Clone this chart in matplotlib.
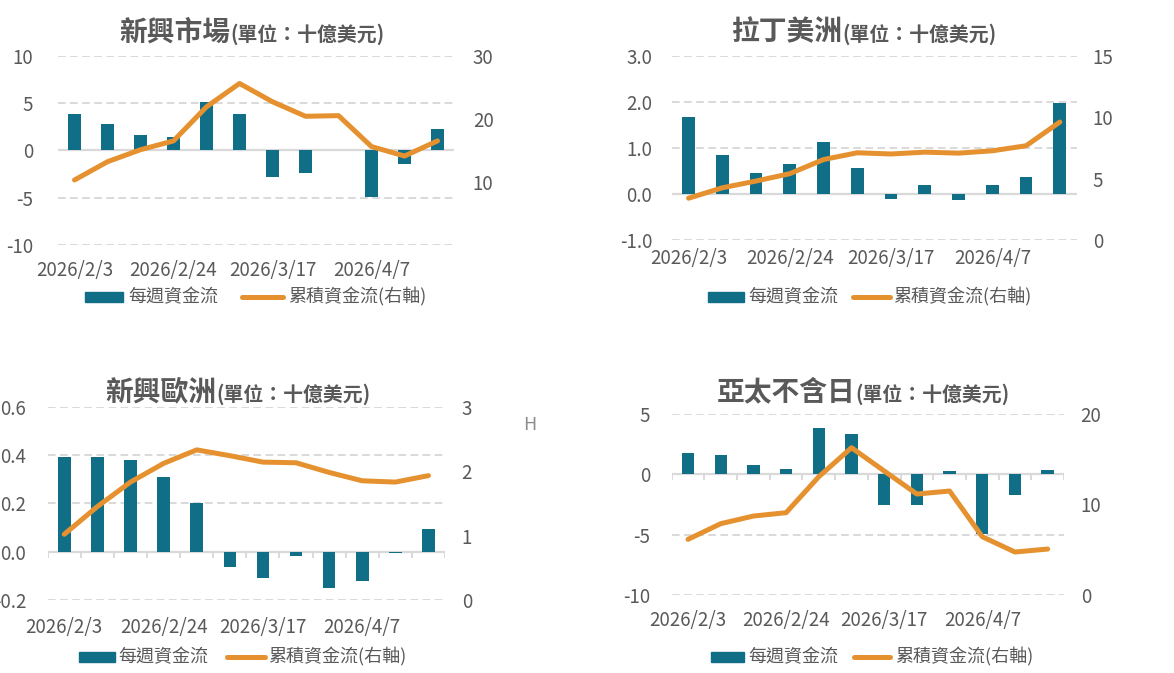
import matplotlib
matplotlib.use("Agg")
import matplotlib.pyplot as plt
from matplotlib.patches import Rectangle
from matplotlib.lines import Line2D

plt.rcParams['font.family'] = ['Noto Sans CJK TC', 'DejaVu Sans']
plt.rcParams['lines.scale_dashes'] = False

# ---------------- data ----------------
dates = ['2026/2/3', '2026/2/10', '2026/2/17', '2026/2/24', '2026/3/3', '2026/3/10',
         '2026/3/17', '2026/3/24', '2026/3/31', '2026/4/7', '2026/4/14', '2026/4/21']
shown_ticks = [0, 3, 6, 9]

em_weekly = [3.8, 2.75, 1.6, 1.4, 5.1, 3.8, -2.8, -2.4, 0.02, -4.95, -1.45, 2.3]
em_cum = [10.3, 13.2, 15.1, 16.5, 21.9, 25.6, 22.7, 20.4, 20.5, 15.6, 14.1, 16.5]

latam_weekly = [1.67, 0.84, 0.45, 0.64, 1.12, 0.56, -0.11, 0.19, -0.13, 0.19, 0.36, 1.97]
latam_cum = [3.4, 4.25, 4.8, 5.4, 6.55, 7.1, 7.0, 7.15, 7.07, 7.26, 7.67, 9.6]

eeu_weekly = [0.393, 0.393, 0.381, 0.31, 0.203, -0.065, -0.11, -0.019, -0.152, -0.123, -0.007, 0.095]
eeu_cum = [1.02, 1.45, 1.83, 2.12, 2.33, 2.24, 2.14, 2.13, 1.98, 1.85, 1.83, 1.93]

apxj_weekly = [1.76, 1.6, 0.77, 0.44, 3.83, 3.33, -2.59, -2.53, 0.28, -4.99, -1.76, 0.36]
apxj_cum = [6.14, 7.87, 8.71, 9.08, 13.05, 16.25, 13.68, 11.14, 11.47, 6.43, 4.74, 5.07]

titles = ['新興市場', '拉丁美洲', '新興歐洲', '亞太不含日']
subtitle = '(單位：十億美元)'
legend_bar = '每週資金流'
legend_line = '累積資金流(右軸)'

left_ticks = [[10, 5, 0, -5, -10], [3.0, 2.0, 1.0, 0.0, -1.0], [0.6, 0.4, 0.2, 0.0, -0.2], [5, 0, -5, -10]]
left_fmt = ['{:.0f}', '{:.1f}', '{:.1f}', '{:.0f}']
right_lim = [(0, 30), (0, 15), (0, 3), (0, 20)]
right_ticks = [[10, 20, 30], [0, 5, 10, 15], [0, 1, 2, 3], [0, 10, 20]]

# ---------------- style ----------------
W, H = 1174, 673
BAR = '#106E86'
LINE = '#E6912F'
TXT = '#595959'
GRID = '#D9D9D9'
TICK_FS = 13.5
LEG_FS = 13

fig = plt.figure(figsize=(W / 100, H / 100), dpi=100)
fig.patch.set_facecolor('white')

def frac_rect(x0, x1, ytop, ybot):
    return [x0 / W, 1 - ybot / H, (x1 - x0) / W, (ybot - ytop) / H]

panels = [
    dict(box=(58, 454, 55.7, 245), xpad=10.5, lpad=18, rpad=13.5, title_x=230, title_y=40.5,
         leg_y=297, leg=(85, 123, 128, 242, 283, 288), ticks0=False),
    dict(box=(671.7, 1076.7, 55.7, 240), xpad=5.5, lpad=14, rpad=11.5, title_x=842, title_y=40.5,
         leg_y=297, leg=(708, 744, 748, 853, 890, 893), ticks0=False),
    dict(box=(47.7, 445, 406.7, 600), xpad=12.5, lpad=15.5, rpad=12, title_x=216, title_y=400.5,
         leg_y=657, leg=(79, 115, 118, 227, 265, 268), ticks0=True),
    dict(box=(671.7, 1064, 413.7, 595), xpad=10.5, lpad=15.5, rpad=12, title_x=855, title_y=400.5,
         leg_y=657, leg=(711, 744, 748, 854, 890, 895), ticks0=True),
]
weekly = [em_weekly, latam_weekly, eeu_weekly, apxj_weekly]
cum = [em_cum, latam_cum, eeu_cum, apxj_cum]

n = len(dates)
xs = list(range(n))

for i, p in enumerate(panels):
    ax = fig.add_axes(frac_rect(*p['box']))
    ax.set_xlim(-0.5, n - 0.5)
    lt = left_ticks[i]
    ax.set_ylim(min(lt), max(lt))
    for s in ax.spines.values():
        s.set_visible(False)
    for v in lt:
        if v == 0:
            ax.axhline(0, color=GRID, lw=1.6, zorder=1)
        else:
            ax.axhline(v, color=GRID, lw=1.4, ls=(0, (5.5, 3.2)), zorder=0)
    if p['ticks0']:
        bounds = [k - 0.5 for k in range(n + 1)]
        ax.vlines(bounds, 0, -(max(lt) - min(lt)) * 6.0 / (p['box'][3] - p['box'][2]),
                  color=GRID, lw=1.4, zorder=1)
    ax.bar(xs, weekly[i], width=0.38, color=BAR, zorder=2)
    ax.set_yticks(lt)
    ax.set_yticklabels([left_fmt[i].format(v) for v in lt])
    ax.set_xticks(shown_ticks)
    ax.set_xticklabels([dates[k] for k in shown_ticks])
    ax.tick_params(axis='x', length=0, pad=p['xpad'], labelsize=TICK_FS, labelcolor=TXT)
    ax.tick_params(axis='y', length=0, pad=p['lpad'], labelsize=TICK_FS, labelcolor=TXT)
    for t in ax.get_xticklabels() + ax.get_yticklabels():
        t.set_fontweight('light')

    ax2 = ax.twinx()
    ax2.set_ylim(*right_lim[i])
    for s in ax2.spines.values():
        s.set_visible(False)
    ax2.plot(xs, cum[i], color=LINE, lw=3.6, solid_capstyle='round', solid_joinstyle='round', zorder=3)
    ax2.set_yticks(right_ticks[i])
    ax2.set_yticklabels([str(v) for v in right_ticks[i]])
    ax2.tick_params(axis='y', length=0, pad=p['rpad'], labelsize=TICK_FS, labelcolor=TXT)
    for t in ax2.get_yticklabels():
        t.set_fontweight('light')

    fig.text(p['title_x'] / W, 1 - p['title_y'] / H, titles[i], ha='right', va='baseline',
             fontsize=20, fontweight='bold', color=TXT)
    fig.text(p['title_x'] / W, 1 - p['title_y'] / H, subtitle, ha='left', va='baseline',
             fontsize=14.3, fontweight='bold', color=TXT)

    bx0, bx1, tx1, lx0, lx1, tx2 = p['leg']
    ly = p['leg_y']
    fig.add_artist(Rectangle((bx0 / W, 1 - (ly + 5) / H), (bx1 - bx0) / W, 10 / H,
                             transform=fig.transFigure, color=BAR))
    fig.add_artist(Line2D([lx0 / W, lx1 / W], [1 - ly / H, 1 - ly / H], transform=fig.transFigure,
                          color=LINE, lw=3.6, solid_capstyle='round'))
    fig.text(tx1 / W, 1 - ly / H, legend_bar, ha='left', va='center', fontsize=LEG_FS, color=TXT)
    fig.text(tx2 / W, 1 - ly / H, legend_line, ha='left', va='center', fontsize=LEG_FS, color=TXT)

fig.text(530 / W, 1 - 425 / H, 'H', ha='center', va='center', fontsize=13, color='#8C8C8C',
         fontweight='light')

fig.savefig('out.png', dpi=100, facecolor='white')
